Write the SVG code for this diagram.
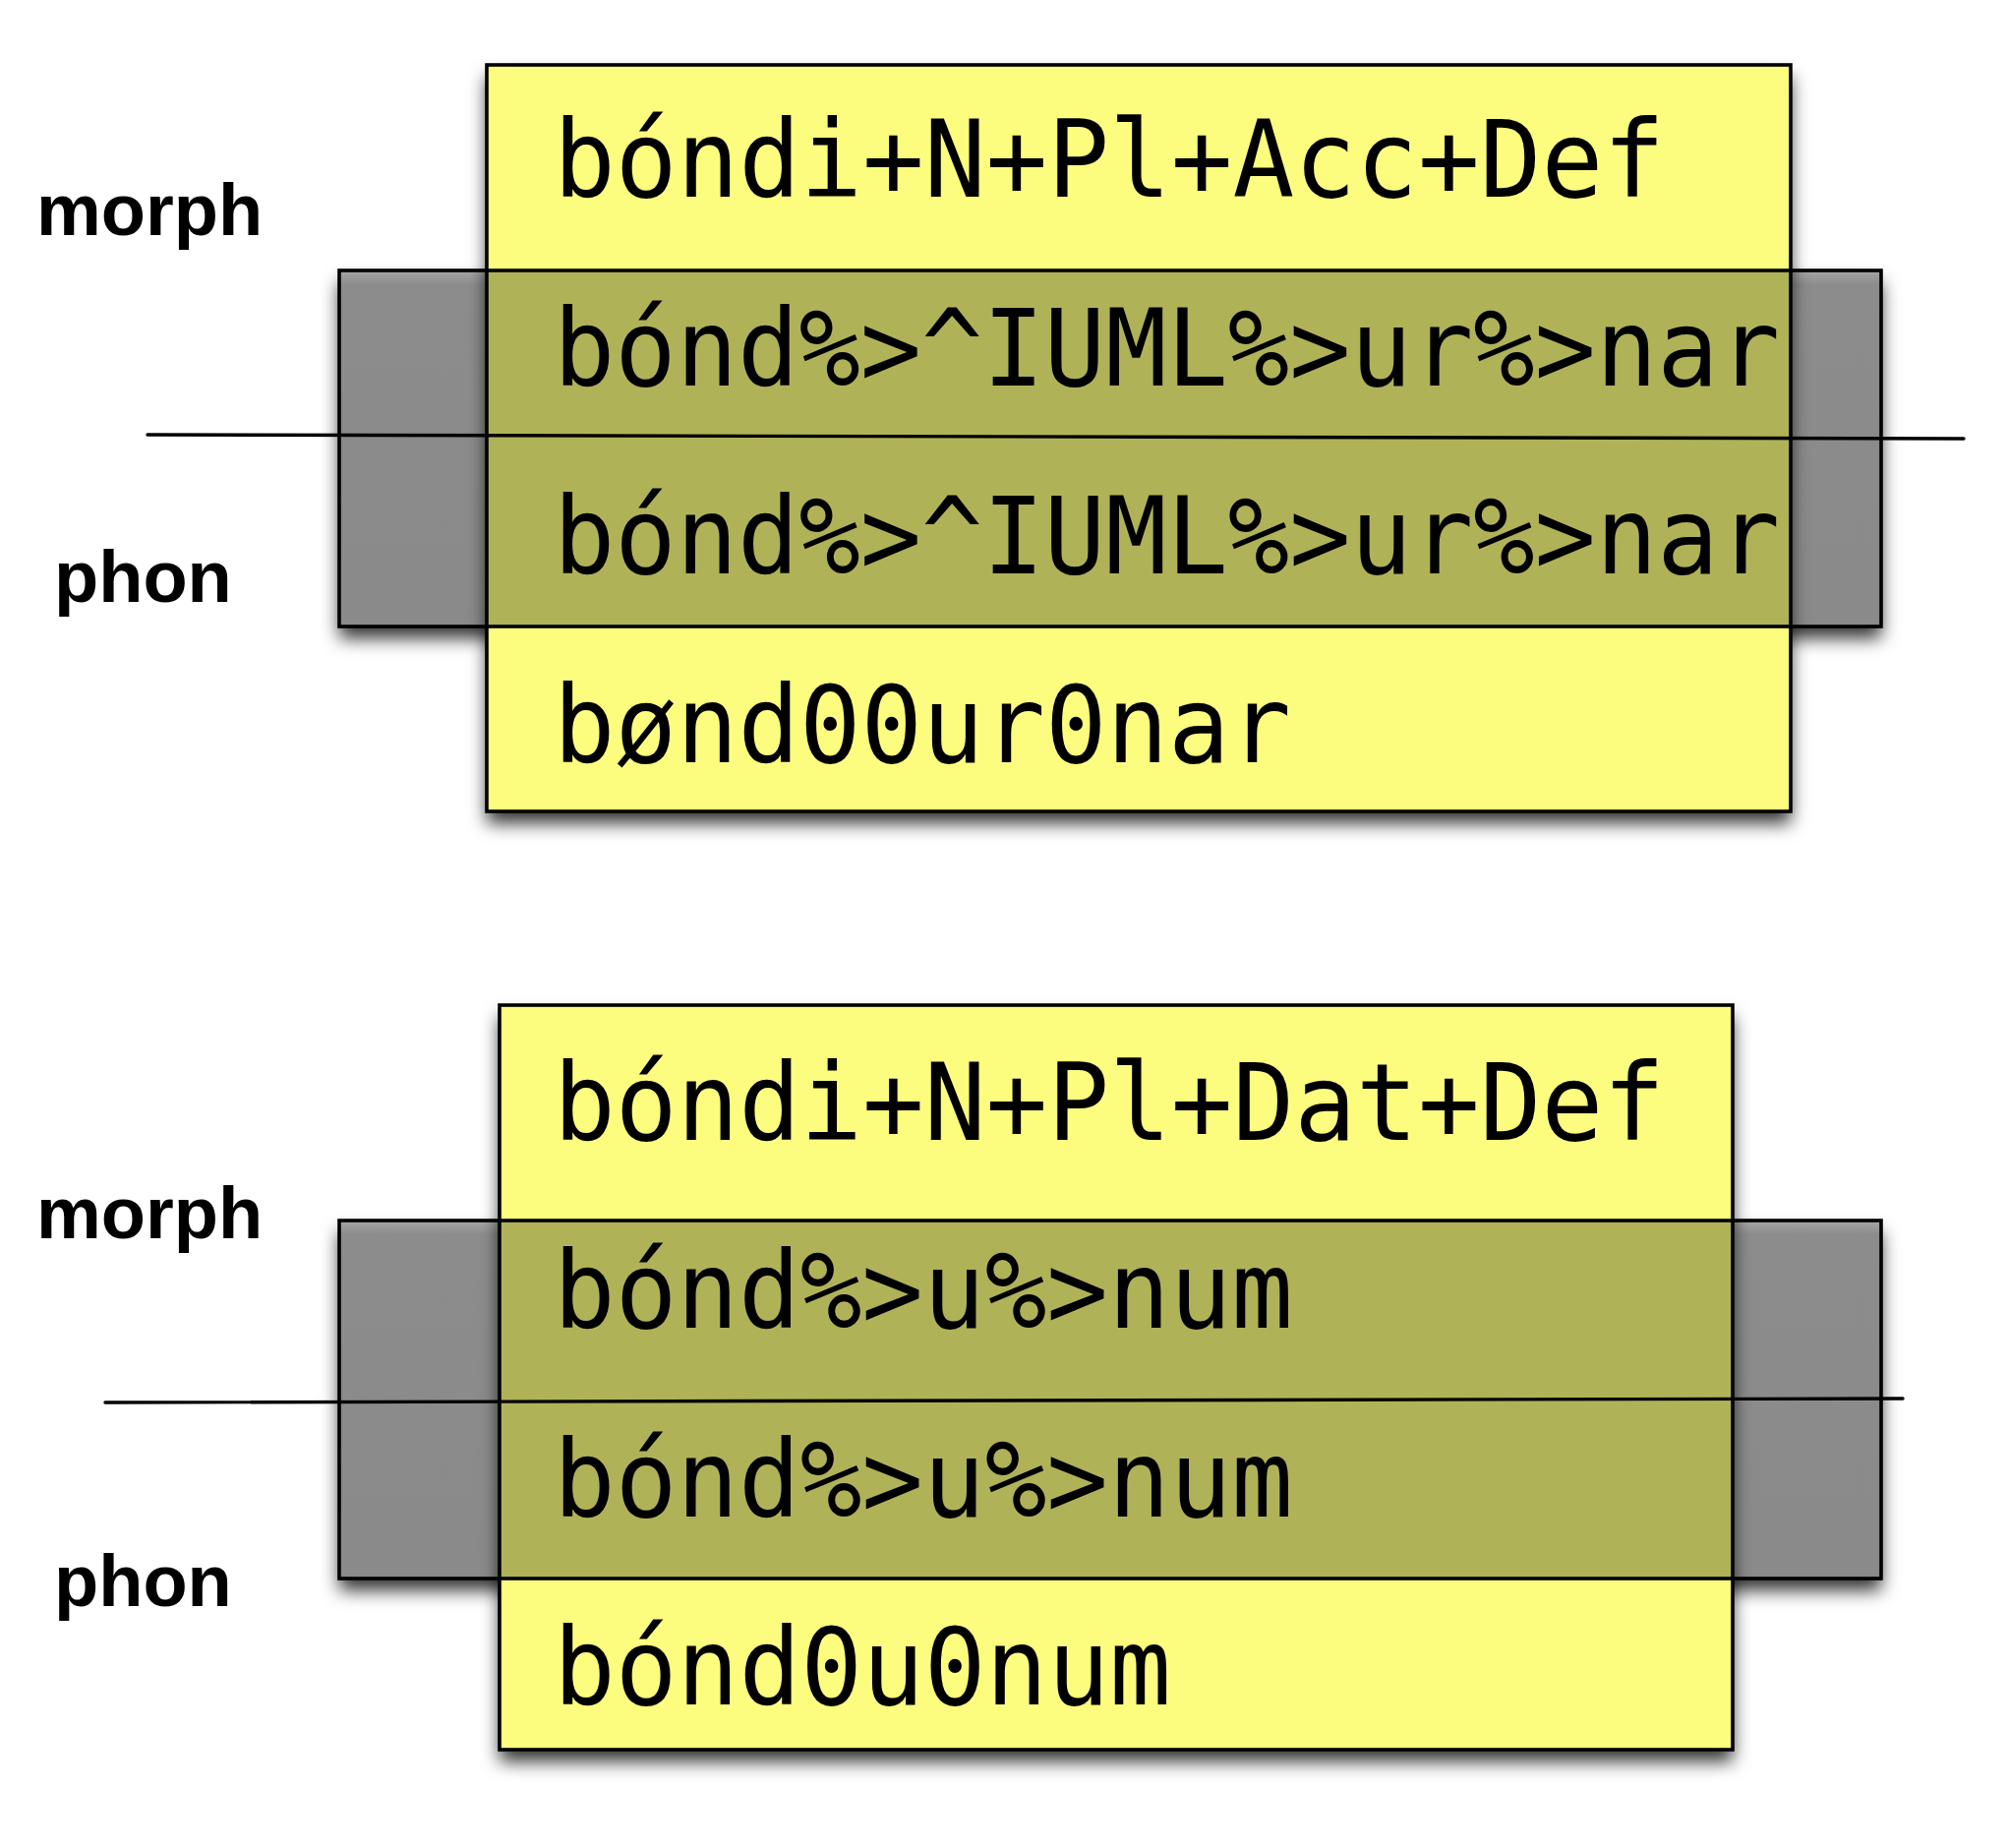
<svg xmlns="http://www.w3.org/2000/svg" width="2041" height="1879" viewBox="0 0 2041 1879">
<style>
.yel{fill:#FCFC7F}
.gry{fill:url(#gg)}
.olv{fill:#B0B258}
.edge{fill:none;stroke:#000;stroke-width:3.6}
.mono{font-family:"DejaVu Sans Mono","Liberation Mono",monospace;font-size:109px;fill:#000}
.lbl{font-family:"Liberation Sans",Arial,sans-serif;font-weight:bold;font-size:74px;fill:#000}
.ln{stroke:#000;stroke-width:3.4;stroke-linecap:round}
</style>
<defs>
<filter id="sh" x="-10%" y="-10%" width="125%" height="135%">
<feDropShadow dx="0" dy="12" stdDeviation="9" flood-color="#000" flood-opacity="0.8"/>
</filter>
<linearGradient id="gg" x1="0" y1="0" x2="0" y2="1">
<stop offset="0" stop-color="#A6A6A6"/>
<stop offset="0.04" stop-color="#8C8C8C"/>
<stop offset="1" stop-color="#8A8A8A"/>
</linearGradient>
</defs>
<rect width="2041" height="1879" fill="#fff"/>

<g id="top-diagram">
<g id="top-phon-morph-band">
<rect class="gry" x="345" y="275" width="1568" height="362" filter="url(#sh)"/>
</g>
<g id="top-box">
<rect class="yel" x="495" y="66" width="1326" height="759" filter="url(#sh)"/>
<rect class="olv" x="495" y="275" width="1326" height="362"/>
<rect class="edge" x="495" y="66" width="1326" height="759"/>
<rect class="edge" x="345" y="275" width="1568" height="362"/>
</g>
<g id="top-row1"><text class="mono" x="563" y="200" textLength="1130" lengthAdjust="spacingAndGlyphs">bóndi+N+Pl+Acc+Def</text></g>
<g id="top-row2"><text class="mono" x="563" y="392" textLength="1247" lengthAdjust="spacingAndGlyphs">bónd%&gt;^IUML%&gt;ur%&gt;nar</text></g>
<g id="top-row3"><text class="mono" x="563" y="583" textLength="1247" lengthAdjust="spacingAndGlyphs">bónd%&gt;^IUML%&gt;ur%&gt;nar</text></g>
<g id="top-row4"><text class="mono" x="563" y="775" textLength="750" lengthAdjust="spacingAndGlyphs">bønd00ur0nar</text></g>
<g id="top-morph"><text class="lbl" x="37" y="239">morph</text></g>
<g id="top-phon"><text class="lbl" x="55" y="612">phon</text></g>
</g>

<g id="bottom-diagram">
<g id="bottom-phon-morph-band">
<rect class="gry" x="345" y="1241" width="1568" height="364" filter="url(#sh)"/>
</g>
<g id="bottom-box">
<rect class="yel" x="508" y="1022" width="1254" height="757" filter="url(#sh)"/>
<rect class="olv" x="508" y="1241" width="1254" height="364"/>
<rect class="edge" x="508" y="1022" width="1254" height="757"/>
<rect class="edge" x="345" y="1241" width="1568" height="364"/>
</g>
<g id="bottom-row1"><text class="mono" x="563" y="1159" textLength="1130" lengthAdjust="spacingAndGlyphs">bóndi+N+Pl+Dat+Def</text></g>
<g id="bottom-row2"><text class="mono" x="563" y="1350" textLength="752" lengthAdjust="spacingAndGlyphs">bónd%&gt;u%&gt;num</text></g>
<g id="bottom-row3"><text class="mono" x="563" y="1542" textLength="752" lengthAdjust="spacingAndGlyphs">bónd%&gt;u%&gt;num</text></g>
<g id="bottom-row4"><text class="mono" x="563" y="1733" textLength="628" lengthAdjust="spacingAndGlyphs">bónd0u0num</text></g>
<g id="bottom-morph"><text class="lbl" x="37" y="1259">morph</text></g>
<g id="bottom-phon"><text class="lbl" x="55" y="1633">phon</text></g>
</g>

<g id="connectors">
<line class="ln" x1="150" y1="442" x2="1997" y2="446"/>
<line class="ln" x1="107" y1="1426" x2="1935" y2="1422"/>
</g>
</svg>
